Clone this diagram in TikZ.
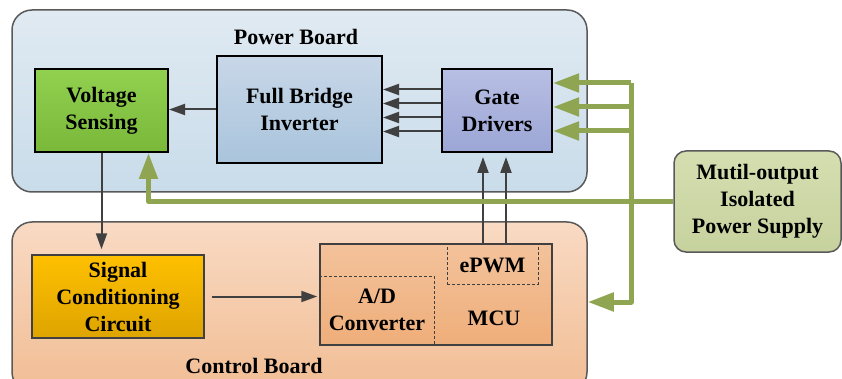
\documentclass[tikz,border=0pt]{standalone}
\usepackage{fontspec}
\setmainfont{Liberation Serif}
\usetikzlibrary{arrows.meta}

\definecolor{boardline}{HTML}{595959}
\definecolor{arrowgrey}{HTML}{404040}
\definecolor{greenline}{HTML}{8FA551}
\newcommand{\boxfont}{\fontsize{22}{27}\selectfont\bfseries}

\begin{document}
\begin{tikzpicture}[x=1pt,y=-1pt,
  board/.style={draw=boardline, line width=1.5pt, rounded corners=20pt, inner sep=0pt},
  block/.style={draw=black, line width=2pt, inner sep=0pt, align=center, font=\boxfont},
  lbl/.style={inner sep=0pt, align=center, font=\boxfont},
  divider/.style={draw=arrowgrey, line width=1pt, dash pattern=on 3pt off 2pt},
  greyarrow/.style={draw=arrowgrey, line width=2pt, -{Triangle[length=16pt,width=11pt]}},
  greenarrow/.style={draw=greenline, line width=5pt, line join=round, -{Triangle[length=26pt,width=18pt]}}]
\useasboundingbox (0,0) rectangle (842,379);
\clip (0,0) rectangle (842,379);

% boards
\node[board, top color={rgb,255:red,224;green,234;blue,242}, bottom color={rgb,255:red,201;green,220;blue,234},
  minimum width=575pt, minimum height=182pt] (powerboard) at (299.5,101) {};
\node[board, top color={rgb,255:red,249;green,218;blue,195}, bottom color={rgb,255:red,241;green,189;blue,148},
  minimum width=575pt, minimum height=170pt] (controlboard) at (299.5,307) {};
\node[lbl] (powertitle) at (296,37) {Power Board};
\node[lbl] (controltitle) at (254,366) {Control Board};

% power board blocks
\node[block, top color={rgb,255:red,146;green,208;blue,80}, bottom color={rgb,255:red,122;green,184;blue,58},
  minimum width=133pt, minimum height=83pt] (volt) at (101.5,110.5) {Voltage\\Sensing};
\node[block, top color={rgb,255:red,200;green,215;blue,232}, bottom color={rgb,255:red,169;green,196;blue,220},
  minimum width=165pt, minimum height=107pt] (bridge) at (299.5,109.5) {Full Bridge\\Inverter};
\node[block, top color={rgb,255:red,184;green,191;blue,228}, bottom color={rgb,255:red,156;green,166;blue,213},
  minimum width=110pt, minimum height=83pt] (gate) at (497,110.5) {Gate\\Drivers};

% control board blocks
\node[block, draw=arrowgrey, line width=1.5pt, top color={rgb,255:red,255;green,192;blue,0}, bottom color={rgb,255:red,222;green,164;blue,0},
  minimum width=172pt, minimum height=83pt] (signal) at (118,296.5) {Signal\\Conditioning\\Circuit};
\node[block, draw=arrowgrey, line width=1.5pt, top color={rgb,255:red,243;green,194;blue,155}, bottom color={rgb,255:red,239;green,174;blue,122},
  minimum width=232pt, minimum height=101pt] (mcu) at (436,294.5) {};
\node[divider, minimum width=91pt, minimum height=40pt, inner sep=0pt] (epwm) at (492.5,264) {};
\node[lbl] (epwmtext) at (492.5,265) {ePWM};
\coordinate (adcorner) at (434,276);
\draw[divider] (adcorner -| mcu.west) -- (adcorner) -- (adcorner |- mcu.south);
\node[lbl] (adtext) at (377,310) {A/D\\Converter};
\node[lbl] (mcutext) at (494,318) {MCU};

% supply
\node[draw=boardline, line width=1.5pt, rounded corners=12pt, inner sep=0pt, align=center, font=\boxfont,
  top color={rgb,255:red,213;green,222;blue,176}, bottom color={rgb,255:red,198;green,210;blue,158},
  minimum width=167pt, minimum height=101pt] (supply) at (757.5,201.5) {Mutil-output\\Isolated\\Power Supply};

% signal paths
\draw[greyarrow] (bridge.west) -- (bridge.west -| volt.east);
\foreach \dy in {-21,-7,7,21}
  \draw[greyarrow] ([yshift=\dy pt]gate.west) -- ([yshift=\dy pt]gate.west -| bridge.east);
\draw[greyarrow, shorten >=5pt] (volt.south) -- (volt.south |- signal.north);
\draw[greyarrow, shorten <=7pt, shorten >=2pt] (signal.east) -- (signal.east -| mcu.west);
\foreach \dx in {-14,9}
  \draw[greyarrow, shorten >=4pt] ([xshift=\dx pt]gate.south |- mcu.north) -- ([xshift=\dx pt]gate.south);

% power paths
\coordinate (bustop) at (631,83);
\coordinate (busend) at (631,302);
\draw[greenarrow] (supply.west) -| ([xshift=47pt]volt.south);
\draw[greenarrow] (bustop) -- (busend) -- (busend -| controlboard.east);
\foreach \y in {83,107,131} {
  \coordinate (tap) at (631,\y);
  \draw[greenarrow] (tap) -- (tap -| gate.east);
}
\end{tikzpicture}
\end{document}
